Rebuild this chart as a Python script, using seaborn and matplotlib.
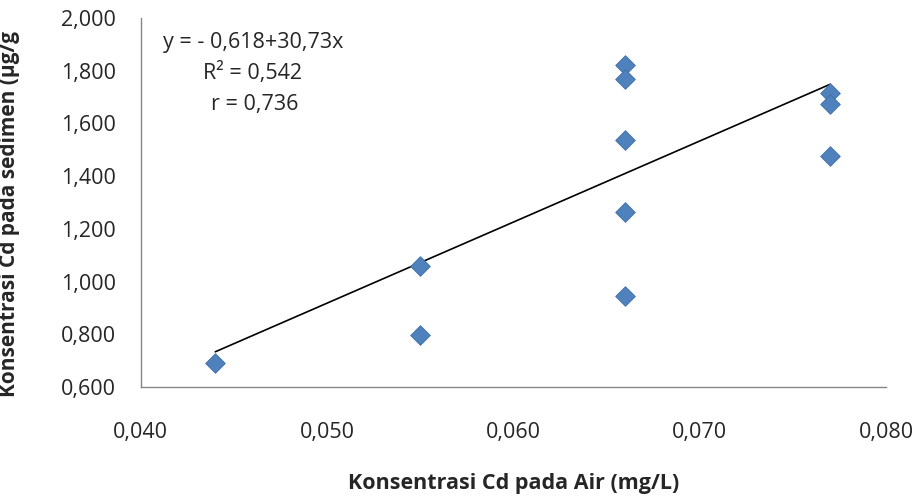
import numpy as np
import pandas as pd
import matplotlib
matplotlib.use("Agg")
import matplotlib.pyplot as plt
import seaborn as sns
from matplotlib.ticker import FuncFormatter

# data
cd_air = [0.044, 0.055, 0.055, 0.066, 0.066, 0.066, 0.066, 0.066, 0.077, 0.077, 0.077]
cd_sedimen = [0.690, 1.059, 0.798, 1.820, 1.769, 1.537, 1.265, 0.946, 1.715, 1.674, 1.478]

intercept = -0.618
slope = 30.73
eq_text = "y = - 0,618+30,73x"
r2_text = "R² = 0,542"
r_text = "r = 0,736"

df = pd.DataFrame({'air': cd_air, 'sedimen': cd_sedimen})

sns.set_style("white")
plt.rcParams['font.family'] = ['Open Sans', 'DejaVu Sans']

fig = plt.figure(figsize=(9.2, 4.97), dpi=100)
ax = fig.add_axes([0.153, 0.221, 0.81, 0.743])

sns.scatterplot(x='air', y='sedimen', data=df, marker='D', s=100,
                color='#4F81BD', edgecolor='#3F6FA8', linewidth=0.6,
                ax=ax, zorder=3)

# linear trend line from the fitted equation
xl = np.array([min(cd_air), max(cd_air)])
ax.plot(xl, intercept + slope * xl, color='black', linewidth=1.2, zorder=2)

ax.set_xlim(0.040, 0.080)
ax.set_ylim(0.600, 2.000)
ax.set_xticks([0.040, 0.050, 0.060, 0.070, 0.080])
ax.set_yticks(np.arange(0.6, 2.01, 0.2))
ax.xaxis.set_major_formatter(FuncFormatter(lambda v, p: f"{v:.3f}".replace('.', ',')))
ax.yaxis.set_major_formatter(FuncFormatter(lambda v, p: f"{v:.3f}".replace('.', ',')))

for s in ['top', 'right']:
    ax.spines[s].set_visible(False)
for s in ['left', 'bottom']:
    ax.spines[s].set_color('#868686')
    ax.spines[s].set_linewidth(1.0)
ax.tick_params(axis='both', direction='out', length=6, width=1, color='#868686',
               labelsize=15.5)
ax.tick_params(axis='y', pad=12)
ax.tick_params(axis='x', pad=19)

ax.set_xlabel("Konsentrasi Cd pada Air (mg/L)", fontsize=15.5, fontweight='bold', labelpad=22)
ax.set_ylabel("Konsentrasi Cd pada sedimen (µg/g", fontsize=15, fontweight='bold')
ax.yaxis.set_label_coords(-0.162, 0.47)

ax.text(0.0412, 1.905, eq_text, fontsize=15.5, ha='left', va='center')
ax.text(0.0460, 1.791, r2_text, fontsize=15.5, ha='center', va='center')
ax.text(0.0461, 1.670, r_text, fontsize=15.5, ha='center', va='center')

fig.savefig("out.png", dpi=100)
